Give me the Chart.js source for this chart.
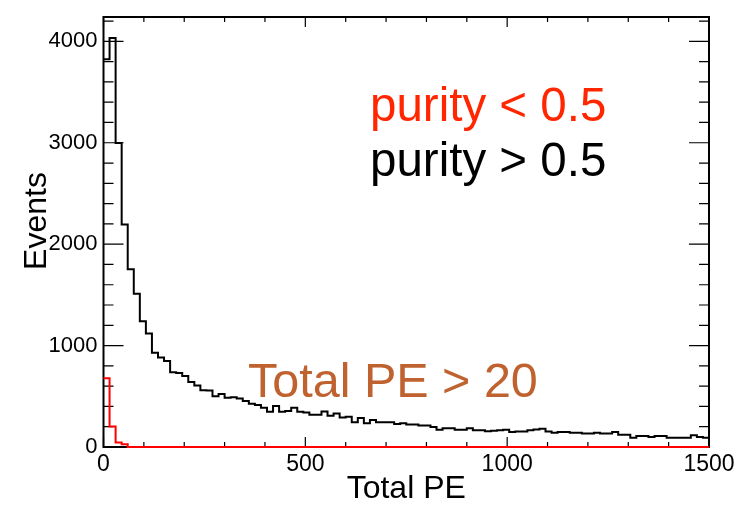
<!DOCTYPE html>
<html>
<head>
<meta charset="utf-8">
<script src="https://cdn.jsdelivr.net/npm/chart.js@4.4.1/dist/chart.umd.min.js"></script>
<style>
  body { margin: 0; background: #fff; }
  #pe-chart { display: block; }
</style>
</head>
<body>
<canvas id="pe-chart" width="748" height="505"></canvas>
<script>
// Total PE histogram: 100 bins of 15 PE between 0 and 1500
const binWidth = 15;
const xMin = 0;
const xMax = 1500;
const yMax = 4240;
const xMinorStep = 100;
const yMinorStep = 200;

// events per bin, purity > 0.5
const pureCounts = [
  3823, 4032, 2998, 2193, 1753, 1512, 1239, 1120, 930, 883,
  847, 738, 730, 700, 640, 607, 560, 556, 500, 523,
  485, 490, 479, 453, 427, 414, 388, 347, 404, 347,
  356, 388, 347, 340, 318, 318, 350, 308, 330, 292,
  298, 244, 286, 234, 266, 244, 244, 244, 228, 234,
  221, 221, 212, 212, 196, 170, 186, 186, 170, 170,
  186, 164, 164, 155, 160, 165, 170, 147, 154, 154,
  164, 173, 180, 154, 141, 148, 148, 141, 141, 132,
  132, 141, 132, 132, 148, 122, 122, 90, 109, 109,
  99, 109, 109, 90, 90, 90, 90, 116, 99, 90
];

// events per bin, purity < 0.5
const impureCounts = [
  677, 202, 45, 26, 0, 0, 0, 0, 0, 0,
  0, 0, 0, 0, 0, 0, 0, 0, 0, 0,
  0, 0, 0, 0, 0, 0, 0, 0, 0, 0,
  0, 0, 0, 0, 0, 0, 0, 0, 0, 0,
  0, 0, 0, 0, 0, 0, 0, 0, 0, 0,
  0, 0, 0, 0, 0, 0, 0, 0, 0, 0,
  0, 0, 0, 0, 0, 0, 0, 0, 0, 0,
  0, 0, 0, 0, 0, 0, 0, 0, 0, 0,
  0, 0, 0, 0, 0, 0, 0, 0, 0, 0,
  0, 0, 0, 0, 0, 0, 0, 0, 0, 0
];

const xTickLabels = [0, 500, 1000, 1500];
const yTickLabels = [0, 1000, 2000, 3000, 4000];

const FONT = '"Liberation Sans", Arial, Helvetica, sans-serif';

// one point per bin low edge, plus the upper edge of the last bin
function toSteps(counts) {
  const pts = counts.map((c, i) => ({ x: xMin + i * binWidth, y: c }));
  pts.push({ x: xMin + counts.length * binWidth, y: counts[counts.length - 1] });
  return pts;
}

// ROOT-like frame: ticks inside on all four sides, thick border, text labels
const rootFrame = {
  id: 'rootFrame',
  beforeDatasetsDraw(chart) {
    const { ctx, chartArea: a, scales: { x, y } } = chart;
    ctx.save();
    ctx.strokeStyle = '#000';
    ctx.lineWidth = 1.2;
    ctx.beginPath();
    for (let v = xMin; v <= xMax; v += xMinorStep) {
      const px = x.getPixelForValue(v);
      const len = xTickLabels.includes(v) ? 10 : 5;
      ctx.moveTo(px, a.bottom); ctx.lineTo(px, a.bottom - len);
      ctx.moveTo(px, a.top); ctx.lineTo(px, a.top + len);
    }
    for (let v = 0; v <= yMax; v += yMinorStep) {
      const py = y.getPixelForValue(v);
      const len = yTickLabels.includes(v) ? 20 : 10;
      ctx.moveTo(a.left, py); ctx.lineTo(a.left + len, py);
      ctx.moveTo(a.right, py); ctx.lineTo(a.right - len, py);
    }
    ctx.stroke();
    ctx.lineWidth = 2;
    ctx.strokeRect(a.left, a.top, a.width, a.height);
    ctx.restore();
  },
  afterDraw(chart) {
    const { ctx } = chart;
    ctx.save();
    ctx.textBaseline = 'alphabetic';
    ctx.textAlign = 'left';
    ctx.font = '47.5px ' + FONT;
    ctx.fillStyle = '#ff2600';
    ctx.fillText('purity < 0.5', 370, 121);
    ctx.fillStyle = '#000';
    ctx.fillText('purity > 0.5', 370, 176);
    ctx.font = '48.5px ' + FONT;
    ctx.fillStyle = '#c0622f';
    ctx.fillText('Total PE > 20', 248, 397);

    // y axis title, rotated
    ctx.translate(37, 221);
    ctx.rotate(-Math.PI / 2);
    ctx.font = '32px ' + FONT;
    ctx.fillStyle = '#000';
    ctx.textAlign = 'center';
    ctx.textBaseline = 'middle';
    ctx.fillText('Events', 0, 0);
    ctx.restore();
  }
};

new Chart(document.getElementById('pe-chart').getContext('2d'), {
  type: 'line',
  data: {
    datasets: [
      {
        label: 'purity > 0.5',
        data: toSteps(pureCounts),
        borderColor: '#000',
        borderWidth: 2,
        stepped: 'before',
        pointRadius: 0,
        fill: false,
        order: 2
      },
      {
        label: 'purity < 0.5',
        data: toSteps(impureCounts),
        borderColor: '#ff0000',
        borderWidth: 2,
        stepped: 'before',
        pointRadius: 0,
        fill: false,
        clip: false,
        order: 1
      }
    ]
  },
  options: {
    responsive: false,
    animation: false,
    devicePixelRatio: 1,
    layout: { padding: { top: 7, right: 39, left: 0, bottom: 0 } },
    plugins: { legend: { display: false }, tooltip: { enabled: false } },
    scales: {
      x: {
        type: 'linear',
        min: xMin,
        max: xMax,
        grid: { display: false, drawTicks: false },
        border: { display: false },
        afterFit: s => { s.height = 58; },
        afterBuildTicks: s => { s.ticks = xTickLabels.map(v => ({ value: v })); },
        ticks: {
          padding: 6,
          color: '#000',
          font: { family: FONT, size: 23, lineHeight: 1 },
          maxRotation: 0,
          callback: v => String(v)
        },
        title: {
          display: true,
          text: 'Total PE',
          color: '#000',
          font: { family: FONT, size: 32, lineHeight: 1 },
          padding: { top: 0, bottom: 0 }
        }
      },
      y: {
        type: 'linear',
        min: 0,
        max: yMax,
        grid: { display: false, drawTicks: false },
        border: { display: false },
        afterFit: s => { s.width = 103.5; },
        afterBuildTicks: s => { s.ticks = yTickLabels.map(v => ({ value: v })); },
        ticks: {
          padding: 6,
          color: '#000',
          font: { family: FONT, size: 22, lineHeight: 1 },
          callback: v => String(v)
        },
        title: { display: false }
      }
    }
  },
  plugins: [rootFrame]
});
</script>
</body>
</html>
